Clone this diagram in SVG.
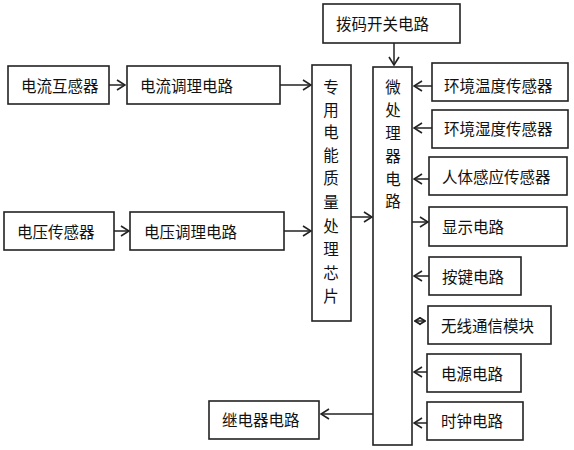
<svg xmlns="http://www.w3.org/2000/svg" width="574" height="450" viewBox="0 0 574 450">
<style>
.box{fill:#fff;stroke:#222;stroke-width:1.6}
.t{font-family:"Noto Sans CJK SC","Noto Sans CJK JP",sans-serif;font-size:15.5px;fill:#111;dominant-baseline:central}
.v{font-family:"Noto Sans CJK SC","Noto Sans CJK JP",sans-serif;font-size:15.5px;fill:#111;dominant-baseline:central;text-anchor:middle}
.c{fill:none;stroke:#222;stroke-width:1.5}
</style>
<defs>
<marker id="ah" viewBox="0 0 10 12" refX="9" refY="6" markerWidth="10" markerHeight="12" markerUnits="userSpaceOnUse" orient="auto-start-reverse">
<path d="M1,1 L9,6 L1,11" fill="none" stroke="#222" stroke-width="1.6"/>
</marker>
<marker id="ahs" viewBox="0 0 10 12" refX="9" refY="6" markerWidth="7" markerHeight="9" markerUnits="userSpaceOnUse" orient="auto-start-reverse">
<path d="M1,1 L9,6 L1,11" fill="none" stroke="#222" stroke-width="2.6"/>
</marker>
</defs>
<g id="connectors">
<line class="c" x1="109" y1="85" x2="125" y2="85" marker-end="url(#ah)"/>
<line class="c" x1="280" y1="85" x2="311" y2="85" marker-end="url(#ah)"/>
<line class="c" x1="114" y1="231" x2="129" y2="231" marker-end="url(#ah)"/>
<line class="c" x1="284" y1="231" x2="311" y2="231" marker-end="url(#ah)"/>
<line class="c" x1="351" y1="217" x2="372" y2="217" marker-end="url(#ah)"/>
<line class="c" x1="394" y1="43" x2="394" y2="65" marker-end="url(#ah)"/>
<line class="c" x1="432" y1="86" x2="414" y2="86" marker-end="url(#ah)"/>
<line class="c" x1="432" y1="128" x2="414" y2="128" marker-end="url(#ah)"/>
<line class="c" x1="429" y1="179" x2="414" y2="179" marker-end="url(#ah)"/>
<line class="c" x1="412" y1="222" x2="428" y2="222" marker-end="url(#ah)"/>
<line class="c" x1="429" y1="276" x2="414" y2="276" marker-end="url(#ah)"/>
<line class="c" x1="415" y1="321" x2="425" y2="321" stroke-width="2" marker-start="url(#ahs)" marker-end="url(#ahs)"/>
<line class="c" x1="427" y1="372" x2="414" y2="372" marker-end="url(#ah)"/>
<line class="c" x1="427" y1="423" x2="414" y2="423" marker-end="url(#ah)"/>
<line class="c" x1="374" y1="414" x2="321" y2="414" marker-end="url(#ah)"/>
</g>
<g id="n-ct"><rect class="box" x="8" y="66" width="101" height="38"/><text class="t" x="21" y="85">电流互感器</text></g>
<g id="n-ccond"><rect class="box" x="127" y="66" width="153" height="38"/><text class="t" x="140" y="85">电流调理电路</text></g>
<g id="n-vs"><rect class="box" x="4" y="212" width="110" height="38"/><text class="t" x="17" y="231">电压传感器</text></g>
<g id="n-vcond"><rect class="box" x="130" y="212" width="154" height="38"/><text class="t" x="144" y="231">电压调理电路</text></g>
<g id="n-dip"><rect class="box" x="323" y="4" width="137" height="39"/><text class="t" x="336" y="23">拨码开关电路</text></g>
<g id="n-chip"><rect class="box" x="312" y="65" width="39" height="256"/>
<text class="v" x="331" y="86">专</text><text class="v" x="331" y="109">用</text><text class="v" x="331" y="131">电</text><text class="v" x="331" y="154">能</text><text class="v" x="331" y="177">质</text><text class="v" x="331" y="201">量</text><text class="v" x="331" y="225">处</text><text class="v" x="331" y="248">理</text><text class="v" x="331" y="272">芯</text><text class="v" x="331" y="295">片</text></g>
<g id="n-mcu"><rect class="box" x="373" y="67" width="39" height="378"/>
<text class="v" x="393" y="86">微</text><text class="v" x="393" y="109">处</text><text class="v" x="393" y="132">理</text><text class="v" x="393" y="155">器</text><text class="v" x="393" y="178">电</text><text class="v" x="393" y="200">路</text></g>
<g id="n-temp"><rect class="box" x="432" y="63" width="136" height="38"/><text class="t" x="444" y="85">环境温度传感器</text></g>
<g id="n-hum"><rect class="box" x="432" y="110" width="136" height="38"/><text class="t" x="444" y="128">环境湿度传感器</text></g>
<g id="n-pir"><rect class="box" x="429" y="157" width="138" height="38"/><text class="t" x="442" y="176">人体感应传感器</text></g>
<g id="n-disp"><rect class="box" x="429" y="207" width="138" height="39"/><text class="t" x="442" y="226">显示电路</text></g>
<g id="n-key"><rect class="box" x="429" y="257" width="92" height="38"/><text class="t" x="442" y="276">按键电路</text></g>
<g id="n-wl"><rect class="box" x="428" y="306" width="123" height="38"/><text class="t" x="441" y="325">无线通信模块</text></g>
<g id="n-pwr"><rect class="box" x="427" y="354" width="94" height="38"/><text class="t" x="441" y="373">电源电路</text></g>
<g id="n-clk"><rect class="box" x="427" y="402" width="96" height="38"/><text class="t" x="441" y="420">时钟电路</text></g>
<g id="n-relay"><rect class="box" x="209" y="401" width="110" height="38"/><text class="t" x="222" y="419">继电器电路</text></g>
</svg>
